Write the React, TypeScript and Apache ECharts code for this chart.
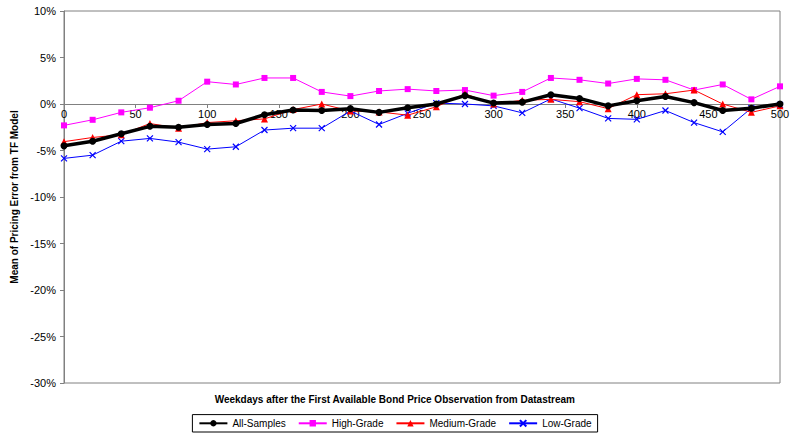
import React, { useEffect, useRef } from "react";
import * as echarts from "echarts";

const xs = [0,20,40,60,80,100,120,140,160,180,200,220,240,260,280,300,320,340,360,380,400,420,440,460,480,500];
const allSamples = [-4.5,-4.0,-3.2,-2.4,-2.5,-2.2,-2.1,-1.15,-0.65,-0.7,-0.5,-0.9,-0.4,0.0,0.9,0.1,0.2,1.0,0.6,-0.2,0.35,0.8,0.15,-0.7,-0.45,0.0];
const highGrade = [-2.3,-1.7,-0.9,-0.4,0.35,2.4,2.1,2.8,2.8,1.3,0.85,1.4,1.6,1.4,1.5,0.9,1.3,2.8,2.6,2.2,2.7,2.6,1.5,2.1,0.5,1.9];
const mediumGrade = [-4.05,-3.6,-3.3,-2.1,-2.6,-2.0,-1.8,-1.6,-0.6,0.0,-0.75,-0.85,-1.2,-0.3,1.1,0.0,0.4,0.5,0.25,-0.5,1.0,1.1,1.5,0.0,-0.9,-0.2];
const lowGrade = [-5.85,-5.5,-4.0,-3.7,-4.1,-4.85,-4.6,-2.8,-2.6,-2.6,-0.75,-2.2,-1.0,0.1,0.0,-0.2,-0.95,0.55,-0.45,-1.55,-1.65,-0.7,-2.0,-3.0,-0.45,-0.1];

const pair = (v: number[]) => xs.map((x, i) => [x, v[i]]);
const font = "'Liberation Sans', Arial, sans-serif";
const cross = "path://M0,0L10,10M10,0L0,10";
const CH = 437, TOP = 11, BOTTOM = 54, YMIN = -30, YMAX = 10;
const zeroOffset = -((CH - TOP - BOTTOM) * (0 - YMIN)) / (YMAX - YMIN);

export default function App() {
  const ref = useRef<HTMLDivElement>(null);
  useEffect(() => {
    const chart = echarts.init(ref.current!, null, { renderer: "svg" });
    chart.setOption({
      animation: false,
      textStyle: { fontFamily: font },
      grid: { left: 64, right: 10, top: TOP, bottom: BOTTOM, show: true, borderColor: "#808080", borderWidth: 1, outerBoundsMode: "none", containLabel: false },
      xAxis: {
        type: "value", min: 0, max: 500, interval: 50, offset: zeroOffset,
        axisLine: { onZero: false, lineStyle: { color: "#808080" } },
        axisTick: { show: true, inside: false, length: 4, lineStyle: { color: "#808080" } },
        axisLabel: { color: "#000", fontSize: 11, fontFamily: font, margin: 4 },
        splitLine: { show: false },
      },
      yAxis: {
        type: "value", min: YMIN, max: YMAX, interval: 5,
        name: "Mean of Pricing Error from TF Model", nameLocation: "middle", nameGap: 28,
        nameTextStyle: { fontWeight: "bold", fontSize: 10, color: "#000", fontFamily: font },
        axisLine: { show: true, onZero: false, lineStyle: { color: "#808080" } },
        axisTick: { show: true, length: 4, lineStyle: { color: "#808080" } },
        axisLabel: { color: "#000", fontSize: 11, fontFamily: font, formatter: "{value}%" },
        splitLine: { show: false },
      },
      legend: {
        bottom: 5, left: "center", itemWidth: 28, itemHeight: 8, itemGap: 12,
        borderColor: "#000", borderWidth: 1, padding: [3, 6], borderRadius: 0,
        textStyle: { fontSize: 10, color: "#000", fontFamily: font },
      },
      graphic: [{
        type: "text", left: "center", top: 394,
        style: { text: "Weekdays after the First Available Bond Price Observation from Datastream", fontWeight: "bold", fontSize: 10, fontFamily: font, fill: "#000" },
      }],
      series: [
        { name: "All-Samples", type: "line", data: pair(allSamples), symbol: "circle", symbolSize: 7, lineStyle: { color: "#000", width: 3.5 }, itemStyle: { color: "#000" }, z: 5 },
        { name: "High-Grade", type: "line", data: pair(highGrade), symbol: "rect", symbolSize: 6, lineStyle: { color: "#ff00ff", width: 1 }, itemStyle: { color: "#ff00ff" } },
        { name: "Medium-Grade", type: "line", data: pair(mediumGrade), symbol: "triangle", symbolSize: 7, lineStyle: { color: "#ff0000", width: 1 }, itemStyle: { color: "#ff0000" }, z: 4 },
        { name: "Low-Grade", type: "line", data: pair(lowGrade), symbol: cross, symbolSize: 6, lineStyle: { color: "#0000ff", width: 1 }, itemStyle: { color: "none", borderColor: "#0000ff", borderWidth: 1.2 } },
      ],
    });
    return () => chart.dispose();
  }, []);
  return <div ref={ref} style={{ position: "absolute", left: 0, top: 0, width: 790, height: CH }} />;
}
